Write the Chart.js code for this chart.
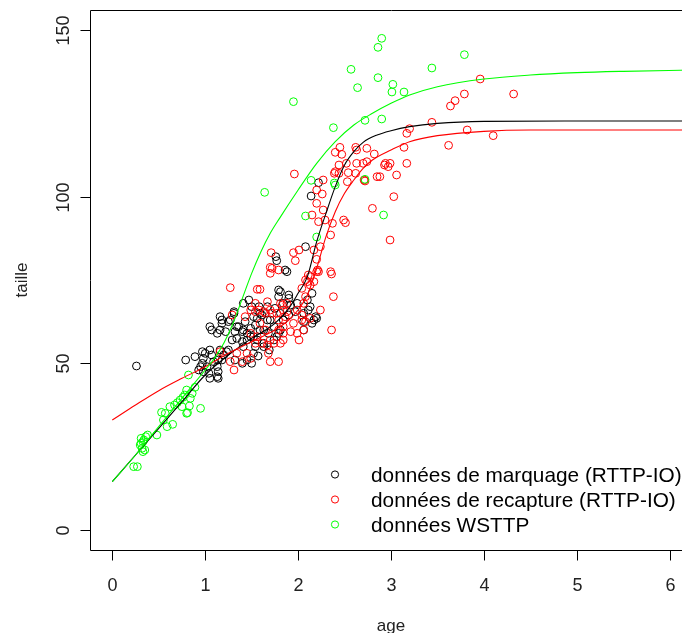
<!DOCTYPE html>
<html>
<head>
<meta charset="utf-8">
<script src="https://cdn.jsdelivr.net/npm/chart.js@4/dist/chart.umd.min.js"></script>
<style>
html,body{margin:0;padding:0;background:#fff;overflow:hidden;}
#wrap{width:682px;height:633px;overflow:hidden;position:relative;}
canvas{display:block;}
</style>
</head>
<body>
<div id="wrap"><canvas id="c" width="700" height="633"></canvas></div>
<script>
// ---- tick labels & text ----
const xTicks = [0, 1, 2, 3, 4, 5, 6];
const yTicks = [0, 50, 100, 150];
const xTitle = "age";
const yTitle = "taille";
const seriesNames = ["données de marquage (RTTP-IO)", "données de recapture (RTTP-IO)", "données WSTTP"];

// ---- données de marquage (RTTP-IO) ----
const marqAge = [0.26,0.79,1.00,0.98,0.97,0.95,1.02,0.93,0.98,1.07,1.09,1.13,1.14,1.04,1.05,1.14,1.18,1.20,1.16,1.25,
1.29,1.34,1.40,1.32,1.40,1.36,1.45,1.49,1.52,1.54,1.59,1.56,1.61,1.67,1.58,1.70,1.74,1.68,1.79,1.84,
1.81,1.45,1.50,1.40,1.05,1.16,1.18,1.25,1.13,1.22,2.08,1.88,1.81,1.79,1.90,1.99,2.10,2.13,2.20,2.17,
2.06,1.97,1.90,1.81,1.74,1.50,1.41,1.31,1.27,1.34,1.43,1.52,1.59,1.63,1.49,1.41,1.56,1.63,1.77,2.22,
2.14,1.77,1.76,2.15,2.19,2.15,2.06,2.11,1.90,0.89,0.97,1.05,1.13,1.07,1.16,1.18,1.31,1.45,1.41,1.54,
1.63,1.52,1.32,1.23,1.14,1.47,1.67,1.75,1.84,1.92,2.06,1.79,1.86,1.57,1.69];
const marqTaille = [49.2,51,53,51.5,50,49,49,48,47.5,52.5,50.5,49,47.5,47,45.5,45.5,51,52.5,54,54,
57,57.5,56.5,59.5,59.5,61,59,60.5,58,61.5,60,63.5,64.5,67,67,63,61,59,59,63,
65,51,50,50,61,64,62,62.5,59,59.5,85,77.5,71.5,70,69.5,68,69,67,63.5,63,
62.5,65.5,64.5,60,57,67,68,65.5,63,61,62.5,64,65,60,58,60,57,56,58,104.2,
100.2,80.8,82,71,64,62,60,66,70.5,52,53.5,54,46,60,60,63,65,57,55,55,
55,53,51,53.5,51,69,63,66.5,68,67.5,65,72,78,52.2,54];

// ---- données de recapture (RTTP-IO) ----
const recapAge = [1.27,1.56,1.59,1.70,1.72,1.79,1.97,1.95,2.01,2.20,2.35,2.36,2.38,2.36,2.08,1.99,2.01,1.81,1.67,1.70,
1.79,1.45,1.49,1.31,1.27,1.16,1.59,1.54,1.43,1.65,1.72,1.79,1.88,1.84,1.92,1.95,2.13,1.65,1.49,1.56,
1.79,1.99,2.04,1.83,1.67,1.58,2.08,2.13,2.17,2.10,1.71,1.70,2.17,2.20,2.24,2.13,2.08,2.04,2.22,2.24,
2.04,2.06,1.84,1.34,1.54,1.61,1.70,1.74,1.68,1.77,1.63,1.70,1.84,1.86,1.81,1.54,1.49,1.84,1.29,1.40,
1.96,2.40,2.45,2.47,2.62,2.63,2.74,2.82,2.44,2.52,2.40,2.44,2.54,2.63,2.70,2.74,2.62,2.71,2.85,2.88,
2.94,2.99,2.97,3.06,3.14,3.17,3.17,2.27,2.20,2.26,2.20,2.27,2.15,2.22,2.29,2.37,2.35,2.49,2.51,2.53,
3.03,2.80,2.99,2.11,2.21,2.06,1.88,3.96,3.79,3.69,3.64,4.32,3.44,3.20,3.82,4.10,3.62,2.39,2.72,2.93];
const recapTaille = [72.7,72.2,72.2,77,78.5,78,80.8,83.2,84,77.5,77.5,76.8,70,60,62.5,59,57,56,55.5,50.5,
50.5,53,51.5,48,50.5,53.5,62,65.5,64,65,65,63,65.5,61,59.5,62,63.5,60,59,58,
60,66,64.5,67.5,68.5,66,70,73.5,74.5,74.5,83.2,78.8,84,81.2,85,76,75,72.5,77.5,66,
63,60,57,53,56,56,57,56,53,65,65.5,66,66,64,68,68,66,59,64.5,50.5,
106.8,113.3,114.8,112.7,114.8,114,114.5,112.8,109.5,110,107.5,107,107.2,110,110,110.5,107,105,106,106,
110,110,109,106.5,114.8,110,119,105,102,100.8,98,96,94.5,92.5,93,92,88.5,93,92.2,104.5,
100,96.5,87,76.5,78,68,68,135.3,130.8,128.8,127.2,130.8,122.3,120.4,120,118.3,115.4,107,104.7,109.5];

// ---- données WSTTP ----
const wsttpAge = [2.90,2.86,2.57,2.86,3.02,3.01,3.14,2.64,3.44,3.79,1.95,2.38,2.72,2.90,1.64,2.14,2.39,2.40,2.72,2.08,
2.20,2.92,0.23,0.27,0.30,0.32,0.33,0.31,0.34,0.36,0.38,0.33,0.35,0.31,0.48,0.55,0.57,0.53,0.59,0.65,
0.62,0.67,0.70,0.73,0.75,0.80,0.81,0.83,0.84,0.86,0.80,0.89,0.82,0.95,0.76,0.78];
const wsttpTaille = [147.5,144.8,138.2,135.7,133.7,131.4,131.4,132.7,138.6,142.6,128.5,120.7,122.9,123.3,101.3,104.9,104.1,103.5,105.2,94.2,
87.9,94.5,19,19,25.5,24.5,26.5,27.5,27,28,28.5,23.5,24,26,28.5,33,35,35.3,31,31.7,
37,37.5,38.2,39,37,35,35.2,37.2,39.5,41,42,42.8,46.5,36.5,39.8,40.5];

// ---- fitted curves ----
const curveMarqAge    = [0,0.25,0.5,0.75,1.0,1.25,1.5,1.75,1.9,2.0,2.1,2.2,2.3,2.4,2.5,2.6,2.7,2.85,3.0,3.2,3.5,4.0,5.0,6.24];
const curveMarqTaille = [14.5,22.5,30.5,38.5,46.5,52.5,57.5,62,66.5,71,76,86.5,95,103,109.5,113.5,116.3,118.5,119.8,121,122,122.6,122.7,122.7];
const curveRecapAge    = [0,0.25,0.5,0.75,1.0,1.25,1.5,1.75,1.9,2.0,2.1,2.2,2.3,2.4,2.5,2.6,2.7,2.8,3.0,3.2,3.5,4.0,4.5,6.24];
const curveRecapTaille = [33,37.5,41.8,45.5,49,53,56.5,60,63,66,70.5,78.5,88,95.5,101,105,108.5,111,114,116.5,118.3,119.6,120,120];
const curveWsttpAge    = [0,0.25,0.5,0.75,1.0,1.1,1.2,1.3,1.4,1.5,1.6,1.7,1.8,2.0,2.2,2.4,2.6,2.8,3.0,3.2,3.5,4.0,4.5,5.0,5.5,6.24];
const curveWsttpTaille = [14.5,22.5,31,39.5,48,51.5,56,62,69.5,77,83.5,89,93.5,102,110,116.5,121.5,125,128,130.5,133,135.3,136.5,137.2,137.6,138];

const colBlack = "#000000", colRed = "#ff0000", colGreen = "#00ff00";

function zip(xs, ys){ return xs.map((x,i)=>({x:x, y:ys[i]})); }

function pts(label, xs, ys, col){
  return {label, data: zip(xs, ys), showLine:false, pointRadius:3.9, pointHoverRadius:3.9,
    pointBorderWidth:1, borderColor:col, pointBorderColor:col, backgroundColor:'rgba(0,0,0,0)',
    pointBackgroundColor:'rgba(0,0,0,0)', pointStyle:'circle'};
}
function crv(label, xs, ys, col){
  return {label, data: zip(xs, ys), showLine:true, pointRadius:0, borderWidth:1.1,
    borderColor:col, backgroundColor:col, cubicInterpolationMode:'monotone', fill:false};
}

const FONT = '"Liberation Sans", Arial, sans-serif';

const rAxes = {
  id: 'rAxes',
  afterDraw(chart){
    const ctx = chart.ctx, a = chart.chartArea, xs = chart.scales.x, ys = chart.scales.y;
    ctx.save();
    ctx.strokeStyle = '#000'; ctx.lineWidth = 1;
    const L = Math.round(a.left)+0.5, T = Math.round(a.top)+0.5, R = Math.round(a.right)+0.5, B = Math.round(a.bottom)+0.5;
    ctx.beginPath(); ctx.rect(L, T, R-L, B-T); ctx.stroke();
    // x ticks
    ctx.fillStyle = '#222';
    ctx.font = '18px ' + FONT;
    ctx.textAlign = 'center'; ctx.textBaseline = 'alphabetic';
    xTicks.forEach(v=>{
      const p = Math.round(xs.getPixelForValue(v))+0.5;
      ctx.beginPath(); ctx.moveTo(p, B); ctx.lineTo(p, B+10); ctx.stroke();
      ctx.fillText(String(v), p, B+40);
    });
    // y ticks
    yTicks.forEach(v=>{
      const p = Math.round(ys.getPixelForValue(v))+0.5;
      ctx.beginPath(); ctx.moveTo(L-10, p); ctx.lineTo(L, p); ctx.stroke();
      ctx.save(); ctx.translate(L-22, p); ctx.rotate(-Math.PI/2);
      ctx.fillText(String(v), 0, 0); ctx.restore();
    });
    // titles
    ctx.font = '17px ' + FONT;
    ctx.fillText(xTitle, (a.left + a.right)/2, 631);
    ctx.save(); ctx.translate(27, (a.top + a.bottom)/2); ctx.rotate(-Math.PI/2);
    ctx.fillText(yTitle, 0, 0); ctx.restore();
    // legend
    const cols = [colBlack, colRed, colGreen];
    const ly = [474.5, 499.5, 524.5];
    ctx.font = '20.8px ' + FONT; ctx.textAlign = 'left'; ctx.textBaseline = 'middle';
    seriesNames.forEach((n,i)=>{
      ctx.strokeStyle = cols[i];
      ctx.beginPath(); ctx.arc(335, ly[i], 3.6, 0, Math.PI*2); ctx.stroke();
      ctx.fillStyle = '#000';
      ctx.fillText(n, 371, ly[i]+2);
    });
    ctx.restore();
  }
};

new Chart(document.getElementById('c'), {
  type: 'scatter',
  data: {
    datasets: [
      crv('courbe WSTTP', curveWsttpAge, curveWsttpTaille, colGreen),
      crv('courbe recapture', curveRecapAge, curveRecapTaille, colRed),
      crv('courbe marquage', curveMarqAge, curveMarqTaille, colBlack),
      pts(seriesNames[2], wsttpAge, wsttpTaille, colGreen),
      pts(seriesNames[1], recapAge, recapTaille, colRed),
      pts(seriesNames[0], marqAge, marqTaille, colBlack)
    ]
  },
  options: {
    responsive: false, animation: false, devicePixelRatio: 1,
    layout: { padding: { left: 90, right: 8, top: 10, bottom: 83 } },
    plugins: { legend: { display: false }, tooltip: { enabled: false } },
    events: [],
    scales: {
      x: { type: 'linear', min: -0.24, max: 6.24, display: false },
      y: { type: 'linear', min: -6, max: 156, display: false }
    }
  },
  plugins: [rAxes]
});
</script>
</body>
</html>
